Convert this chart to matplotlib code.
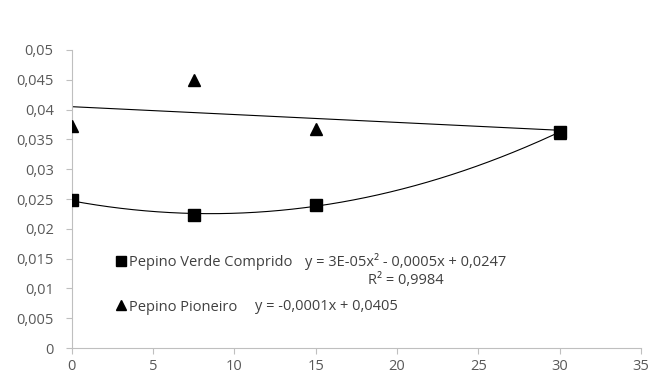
import numpy as np
import matplotlib.pyplot as plt
from matplotlib.ticker import FuncFormatter
from matplotlib.lines import Line2D

# ------------------------------------------------------------
# Data
# ------------------------------------------------------------
x_verde = [0, 7.5, 15, 30]
y_verde = [0.0248, 0.0223, 0.0240, 0.0362]

x_pioneiro = [0, 7.5, 15, 30]
y_pioneiro = [0.0372, 0.0450, 0.0368, 0.0360]

label_verde = "Pepino Verde Comprido"
label_pioneiro = "Pepino Pioneiro"
eq_verde = "y = 3E-05x² - 0,0005x + 0,0247"
r2_verde = "R² = 0,9984"
eq_pioneiro = "y = -0,0001x + 0,0405"

plt.rcParams['font.family'] = ['Open Sans', 'DejaVu Sans']
text_color = '#404040'
tick_color = '#595959'
fs = 10.5

fig = plt.figure(figsize=(6.52, 3.78), dpi=100)
ax = fig.add_axes([0.110, 0.079, 0.873, 0.789])

# markers
ax.plot(x_pioneiro, y_pioneiro, linestyle='none', marker='^', markersize=8,
        color='black', zorder=3)
ax.plot(x_verde, y_verde, linestyle='none', marker='s', markersize=8.5,
        color='black', zorder=4)

# trend lines (fitted from the points)
xs = np.linspace(0, 30, 200)
c2 = np.polyfit(x_verde, y_verde, 2)
ax.plot(xs, np.polyval(c2, xs), color='black', linewidth=0.8, zorder=2)
c1 = np.polyfit(x_pioneiro, y_pioneiro, 1)
ax.plot(xs, np.polyval(c1, xs), color='black', linewidth=0.8, zorder=2)

# axes styling
ax.set_xlim(0, 35)
ax.set_ylim(0, 0.05)
ax.set_xticks(np.arange(0, 36, 5))
ax.set_yticks(np.arange(0, 0.0501, 0.005))
ax.yaxis.set_major_formatter(FuncFormatter(
    lambda v, p: '0' if abs(v) < 1e-9 else f'{v:.3f}'.rstrip('0').replace('.', ',')))
for s in ['top', 'right']:
    ax.spines[s].set_visible(False)
for s in ['left', 'bottom']:
    ax.spines[s].set_color('#bfbfbf')
    ax.spines[s].set_linewidth(0.8)
ax.tick_params(axis='both', colors='#bfbfbf', labelcolor=tick_color,
               labelsize=fs, length=4, width=0.8)
ax.tick_params(axis='y', pad=9)
ax.tick_params(axis='x', pad=4)

# legend
handles = [Line2D([], [], linestyle='none', marker='s', markersize=7, color='black'),
           Line2D([], [], linestyle='none', marker='^', markersize=7, color='black')]
leg = ax.legend(handles, [label_verde, label_pioneiro], loc='upper left',
                bbox_to_anchor=(0.055, 0.355), frameon=False, fontsize=fs,
                handlelength=0.6, handletextpad=0.3, labelspacing=2.0,
                labelcolor=text_color)

ax.text(0.409, 0.289, eq_verde, transform=ax.transAxes, fontsize=fs,
        color=text_color, va='center')
ax.text(0.520, 0.228, r2_verde, transform=ax.transAxes, fontsize=fs,
        color=text_color, va='center')
ax.text(0.322, 0.141, eq_pioneiro, transform=ax.transAxes, fontsize=fs,
        color=text_color, va='center')

fig.savefig('out.png', dpi=100)
